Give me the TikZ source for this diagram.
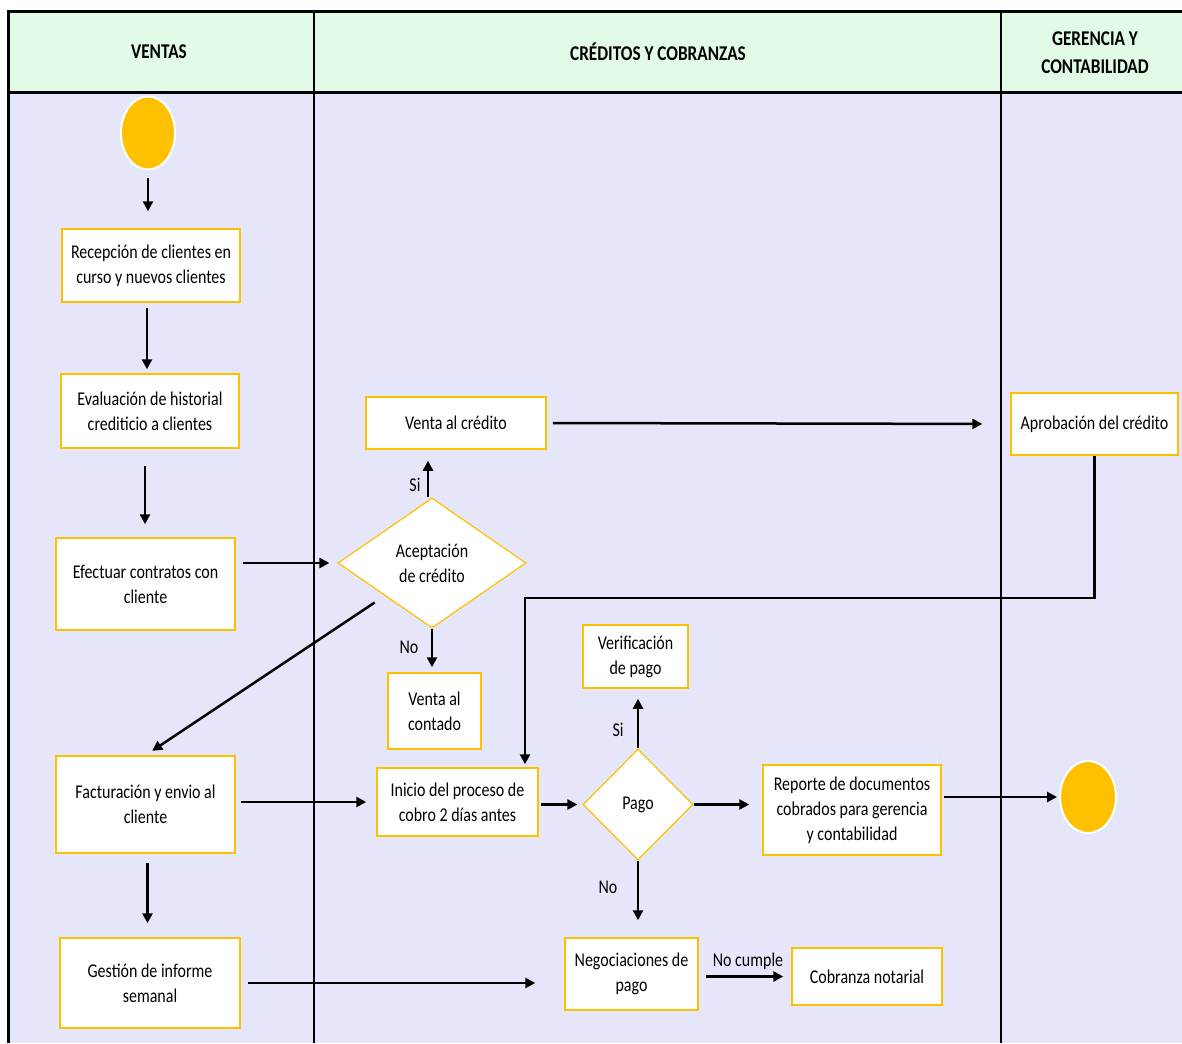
\documentclass[tikz,border=0pt]{standalone}
\usepackage{fontspec}
\setmainfont{Carlito}[FakeStretch=0.82]
\usetikzlibrary{shapes.geometric,arrows.meta}
\definecolor{hdr}{HTML}{E2FBE6}
\definecolor{bodyc}{HTML}{E6E6FA}
\definecolor{gold}{HTML}{FFC000}
\begin{document}
\begin{tikzpicture}[x=1pt,y=-1pt,
  txt/.style={font=\fontsize{19.5pt}{25pt}\selectfont},
  box/.style={txt,draw=gold,line width=1.5pt,fill=white,align=center,inner sep=2pt},
  dec/.style={txt,diamond,draw=gold,line width=1.2pt,fill=white,align=center,inner sep=0pt},
  term/.style={ellipse,fill=gold,draw=white,line width=2pt,inner sep=0pt,minimum width=54pt,minimum height=73pt},
  arr/.style={line width=2.5pt,-{Triangle[length=10pt,width=10pt]}},
  lbl/.style={txt,inner sep=0pt},
  hd/.style={font=\bfseries\fontsize{21pt}{28pt}\selectfont,align=center},
  frame/.style={line width=3pt},
  sep/.style={line width=2.5pt}]
\useasboundingbox (0,0) rectangle (1182,1043);
\fill[white] (0,0) rectangle (1182,1043);
% lanes
\fill[hdr] (8,12) rectangle (1182,93);
\fill[bodyc] (8,93) rectangle (1182,1043);
\draw[frame] (1182,12) -- (8,12) -- (8,1043);
\draw[frame] (8,93) -- (1182,93);
\draw[sep] (314,12) -- (314,1043);
\draw[sep] (1001,12) -- (1001,1043);
\node[hd] (hv) at (159,52) {VENTAS};
\node[hd] (hc) at (658,52) {CRÉDITOS Y COBRANZAS};
\node[hd] (hg) at (1095,53) {GERENCIA Y\\CONTABILIDAD};
% nodes
\node[term] (start) at (148,133) {};
\node[box,minimum width=178pt,minimum height=73pt] (rec) at (151,265.5) {Recepción de clientes en\\curso y nuevos clientes};
\node[box,minimum width=178pt,minimum height=74pt] (eval) at (150,411) {Evaluación de historial\\crediticio a clientes};
\node[box,minimum width=179pt,minimum height=92pt] (efec) at (145.5,584) {Efectuar contratos con\\cliente};
\node[dec,minimum width=188pt,minimum height=130pt] (acep) at (432,563) {Aceptación\\de crédito};
\node[box,minimum width=180pt,minimum height=52pt] (vcred) at (456,423) {Venta al crédito};
\node[box,minimum width=167pt,minimum height=62pt] (aprob) at (1094.5,424) {Aprobación del crédito};
\node[box,minimum width=93pt,minimum height=76pt] (vcont) at (434.5,711) {Venta al\\contado};
\node[box,minimum width=179pt,minimum height=97pt] (fact) at (145.5,804.5) {Facturación y envio al\\cliente};
\node[box,minimum width=161pt,minimum height=68pt] (ini) at (457.5,802) {Inicio del proceso de\\cobro 2 días antes};
\node[dec,minimum width=110pt,minimum height=111pt] (pago) at (638,804.5) {Pago};
\node[box,minimum width=105pt,minimum height=63pt] (verif) at (635.5,656.5) {Verificación\\de pago};
\node[box,minimum width=178pt,minimum height=90pt] (rep) at (852,810) {Reporte de documentos\\cobrados para gerencia\\y contabilidad};
\node[term,minimum width=56pt,minimum height=72pt] (fin) at (1088,797) {};
\node[box,minimum width=133pt,minimum height=72pt] (neg) at (631.5,974) {Negociaciones de\\pago};
\node[box,minimum width=150pt,minimum height=57pt] (cob) at (867,976.5) {Cobranza notarial};
\node[box,minimum width=180pt,minimum height=90pt] (ges) at (150,983) {Gestión de informe\\semanal};
% labels
\node[lbl] (si1) at (415,485) {Si};
\node[lbl] (no1) at (409,647) {No};
\node[lbl] (si2) at (618,730) {Si};
\node[lbl] (no2) at (608,887) {No};
\node[lbl] (nc) at (748,961) {No cumple};
% connectors
\coordinate (bend) at (525,598);
\draw[arr,shorten <=8pt,shorten >=17pt] (start.south) -- (start.south |- rec.north);
\draw[arr,shorten <=5pt,shorten >=4pt] ([xshift=-4pt]rec.south) -- ([xshift=-4pt]rec.south |- eval.north);
\draw[arr,shorten <=17pt,shorten >=13pt] ([xshift=-5pt]eval.south) -- ([xshift=-5pt]eval.south |- efec.north);
\draw[arr,shorten <=7pt,shorten >=8pt] (efec.east |- acep.west) -- (acep.west);
\draw[arr,shorten >=11pt] ([xshift=-4pt]acep.north) -- ([xshift=-4pt]acep.north |- vcred.south);
\draw[arr,shorten <=6pt,shorten >=28pt] (vcred.east) -- (aprob.west);
\draw[arr,shorten >=3pt] (aprob.south) |- (bend) -- (bend |- ini.north);
\draw[arr,shorten >=5pt] (acep.south) -- (acep.south |- vcont.north);
\draw[arr,shorten <=12pt,shorten >=8pt] (acep.south west) -- (fact.north);
\draw[arr,shorten <=5pt,shorten >=10pt] (fact.east |- ini.west) -- (ini.west);
\draw[arr,shorten <=2pt,shorten >=5pt] (ini.east |- pago.west) -- (pago.west);
\draw[arr,shorten >=10pt] (pago.north) -- (pago.north |- verif.south);
\draw[arr,shorten >=13pt] (pago.east) -- (pago.east -| rep.west);
\draw[arr,shorten <=2pt,shorten >=2pt] (rep.east |- fin.west) -- (fin.west);
\draw[arr,shorten >=17pt] (pago.south) -- (pago.south |- neg.north);
\draw[arr,shorten <=7pt,shorten >=8pt] (neg.east |- cob.west) -- (cob.west);
\draw[arr,shorten <=9pt,shorten >=14pt] ([xshift=2pt]fact.south) -- ([xshift=2pt]fact.south |- ges.north);
\draw[arr,shorten <=7pt,shorten >=29pt] (ges.east) -- (ges.east -| neg.west);
\end{tikzpicture}
\end{document}
